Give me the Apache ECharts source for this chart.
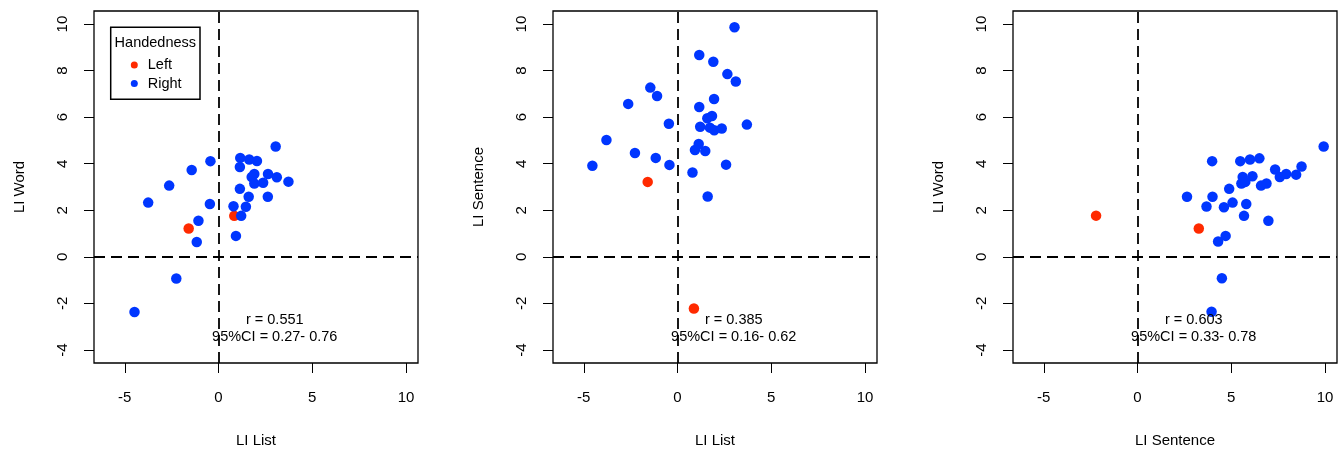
<!DOCTYPE html>
<html><head><meta charset="utf-8">
<script src="https://cdn.jsdelivr.net/npm/echarts@6/dist/echarts.min.js"></script>
<style>html,body{margin:0;padding:0;background:#fff}#c{width:1344px;height:449px}</style>
</head><body><div id="c"></div>
<script>
// ---- data ----
const xTicks = [-5, 0, 5, 10];
const yTicks = [-4, -2, 0, 2, 4, 6, 8, 10];
const xLimits = [-6.64, 10.64];
const yLimits = [-4.56, 10.56];
const xNames = ['LI List', 'LI List', 'LI Sentence'];
const yNames = ['LI Word', 'LI Sentence', 'LI Word'];
const rValues = ['0.551', '0.385', '0.603'];
const ciValues = ['0.27- 0.76', '0.16- 0.62', '0.33- 0.78'];
const groupNames = ['Left', 'Right'];

// Panel 1: LI List vs LI Word
const listWordLeft = [[-1.59, 1.22], [0.84, 1.76]];
const listWordRight = [
  [3.05, 4.74], [1.16, 4.25], [1.64, 4.18], [2.05, 4.12], [-0.43, 4.11], [1.14, 3.86],
  [-1.43, 3.73], [1.91, 3.56], [2.64, 3.56], [1.77, 3.43], [3.11, 3.42], [3.73, 3.23],
  [1.91, 3.15], [2.38, 3.18], [-2.63, 3.06], [1.14, 2.92], [1.61, 2.58], [2.63, 2.58],
  [-3.75, 2.33], [-0.46, 2.27], [0.80, 2.17], [1.46, 2.15], [1.21, 1.76], [-1.07, 1.55],
  [-1.16, 0.64], [0.93, 0.90], [-2.25, -0.93], [-4.48, -2.37]
];
// Panel 2: LI List vs LI Sentence
const listSentenceLeft = [[-1.59, 3.22], [0.875, -2.22]];
const listSentenceRight = [
  [3.04, 9.86], [1.16, 8.67], [1.91, 8.38], [2.66, 7.85], [3.11, 7.53], [-1.45, 7.27],
  [-1.09, 6.91], [-2.63, 6.57], [1.95, 6.78], [1.16, 6.44], [1.84, 6.05], [1.59, 5.95],
  [-0.46, 5.72], [1.21, 5.59], [3.70, 5.68], [1.73, 5.55], [1.96, 5.44], [2.36, 5.51],
  [-3.79, 5.02], [1.13, 4.85], [0.93, 4.59], [1.48, 4.55], [-2.27, 4.46], [-1.16, 4.25],
  [-4.54, 3.91], [-0.43, 3.95], [2.59, 3.96], [0.80, 3.62], [1.61, 2.59]
];
// Panel 3: LI Sentence vs LI Word
const sentenceWordLeft = [[-2.21, 1.77], [3.27, 1.22]];
const sentenceWordRight = [
  [9.93, 4.74], [3.98, 4.11], [5.48, 4.11], [6.00, 4.18], [6.50, 4.23], [7.34, 3.75],
  [8.75, 3.88], [5.61, 3.43], [6.13, 3.46], [7.59, 3.43], [7.93, 3.56], [8.46, 3.53],
  [5.54, 3.15], [5.75, 3.22], [6.59, 3.06], [6.88, 3.15], [4.89, 2.92], [2.64, 2.58],
  [4.00, 2.58], [3.68, 2.16], [4.61, 2.13], [5.07, 2.33], [5.80, 2.27], [5.68, 1.76],
  [6.98, 1.55], [4.70, 0.90], [4.30, 0.66], [4.50, -0.92], [3.95, -2.36]
];
const annotationAt = [3, -3];

const panels = [
  { left: listWordLeft, right: listWordRight },
  { left: listSentenceLeft, right: listSentenceRight },
  { left: sentenceWordLeft, right: sentenceWordRight }
];

// ---- styling ----
const FONT = '"Liberation Sans", Arial, Helvetica, sans-serif';
const RED = '#ff2a00', BLUE = '#0036ff';
const gridLefts = [94, 553, 1013];

const chart = echarts.init(document.getElementById('c'), null, { renderer: 'canvas' });

const grids = [], xAxes = [], yAxes = [], series = [];
panels.forEach((p, i) => {
  grids.push({ left: gridLefts[i], top: 11, width: 324, height: 352, show: true,
    containLabel: false, outerBoundsMode: 'none',
    borderColor: '#000', borderWidth: 1.3, backgroundColor: 'transparent' });
  xAxes.push({
    type: 'value', gridIndex: i, min: xLimits[0], max: xLimits[1], position: 'bottom',
    name: xNames[i], nameLocation: 'middle', nameGap: 70,
    nameTextStyle: { fontFamily: FONT, fontSize: 15, color: '#000' },
    axisLine: { show: false, onZero: false },
    axisTick: { show: true, inside: false, length: 10, customValues: xTicks, lineStyle: { color: '#000', width: 1 } },
    axisLabel: { show: true, customValues: xTicks, margin: 27, fontFamily: FONT, fontSize: 15, color: '#000' },
    splitLine: { show: false }
  });
  yAxes.push({
    type: 'value', gridIndex: i, min: yLimits[0], max: yLimits[1], position: 'left',
    name: yNames[i], nameLocation: 'middle', nameGap: 67,
    nameTextStyle: { fontFamily: FONT, fontSize: 15, color: '#000' },
    axisLine: { show: false, onZero: false },
    axisTick: { show: true, inside: false, length: 10, customValues: yTicks, lineStyle: { color: '#000', width: 1 } },
    axisLabel: { show: true, customValues: yTicks, rotate: 90, margin: 24, fontFamily: FONT, fontSize: 15, color: '#000' },
    splitLine: { show: false }
  });
  series.push({
    name: groupNames[0], type: 'scatter', xAxisIndex: i, yAxisIndex: i,
    data: p.left, symbolSize: 10.5, itemStyle: { color: RED, opacity: 1 },
    emphasis: { disabled: true },
    markLine: {
      silent: true, symbol: 'none', animation: false,
      lineStyle: { color: '#000', type: [11, 6], width: 1.8 },
      label: { show: false },
      data: [{ xAxis: 0 }, { yAxis: 0 }]
    }
  });
  series.push({
    name: groupNames[1], type: 'scatter', xAxisIndex: i, yAxisIndex: i,
    data: p.right, symbolSize: 10.5, itemStyle: { color: BLUE, opacity: 1 },
    emphasis: { disabled: true },
    markPoint: {
      silent: true, animation: false, symbol: 'circle', symbolSize: 0,
      itemStyle: { color: 'transparent' },
      label: { show: true, position: 'inside', offset: [0, 2], color: '#000', fontFamily: FONT, fontSize: 14.5,
        lineHeight: 17, align: 'center',
        formatter: 'r = ' + rValues[i] + '\n95%CI = ' + ciValues[i] },
      data: [{ coord: annotationAt }]
    }
  });
});

chart.setOption({
  animation: false,
  backgroundColor: '#fff',
  grid: grids, xAxis: xAxes, yAxis: yAxes, series: series,
  legend: {
    data: groupNames.map(n => ({ name: n, icon: 'circle' })),
    orient: 'vertical', left: 130.8, top: 57.5, padding: 0, itemWidth: 7, itemHeight: 7, itemGap: 3.5,
    selectedMode: false,
    textStyle: { fontFamily: FONT, fontSize: 14.5, color: '#000', padding: [0, 0, 0, 5], lineHeight: 14 }
  },
  graphic: [
    { type: 'rect', shape: { x: 110.7, y: 27.3, width: 89.3, height: 72 },
      style: { fill: 'transparent', stroke: '#000', lineWidth: 1.5 }, z: 100 },
    { type: 'text', x: 155.3, y: 42.7, z: 100,
      style: { text: 'Handedness', font: '14.5px ' + FONT, fill: '#000', textAlign: 'center', textVerticalAlign: 'middle' } }
  ]
});
</script></body></html>
